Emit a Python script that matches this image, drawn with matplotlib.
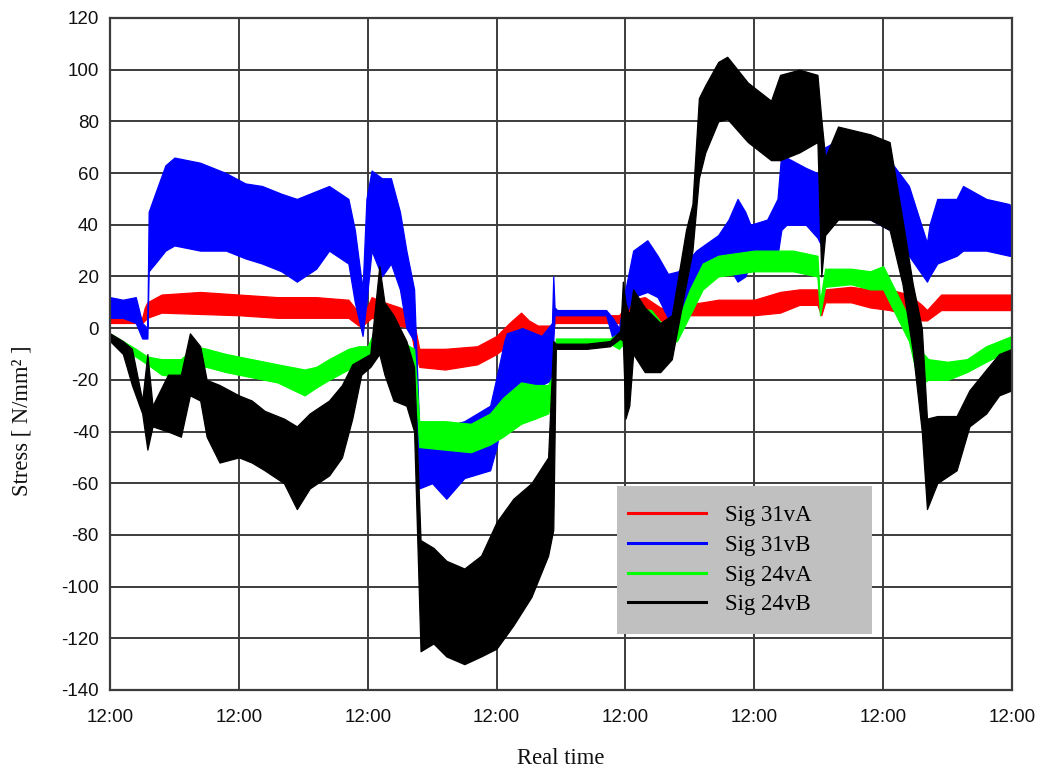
"""
Stress signals 31vA/31vB/24vA/24vB over one week of monitoring.
Each trace is very noisy, so it is drawn as a band between the lower and
upper envelope read off the recording at each sample time (days from 12:00).
"""
import matplotlib
matplotlib.use("Agg")
import matplotlib.pyplot as plt
from matplotlib.lines import Line2D
from matplotlib.patches import Rectangle

SERIF = ["Liberation Serif", "DejaVu Serif"]
SANS = ["Liberation Sans", "DejaVu Sans"]

DAY_TICKS = [0, 1, 2, 3, 4, 5, 6, 7]
DAY_LABELS = ["12:00"] * len(DAY_TICKS)
STRESS_TICKS = list(range(-140, 121, 20))

# --- Sig 31vA (red) -----------------------------------------------------------
RED_T = [0.0, 0.25, 0.27, 0.29, 0.40, 0.70, 1.00, 1.30, 1.60, 1.85, 1.93, 1.96,
         2.03, 2.13, 2.25, 2.33, 2.36, 2.40, 2.60, 2.85, 3.00, 3.10, 3.19, 3.25,
         3.32, 3.43, 3.45, 3.70, 3.95, 4.00, 4.05, 4.15, 4.27, 4.36, 4.45, 4.60,
         4.72, 5.00, 5.20, 5.35, 5.49, 5.52, 5.55, 5.75, 5.90, 6.05, 6.20, 6.30,
         6.34, 6.45, 6.70, 7.0]
RED_LO = [2, 2, 3, 4, 6, 5.5, 5, 4, 4, 4, 1, 1,
          4, 3, 1, 0, -8, -15, -16, -14, -10, -6, 1, -3,
          -6, -5, 2, 2, 2, -2, 5, 5, 3, 2, 5, 5,
          5, 5, 6, 9, 9, 5, 10, 10, 8, 7, 5, 3,
          3, 7, 7, 7]
RED_HI = [4, 4, 8, 10, 13, 14, 13, 12, 12, 11, 6, 4,
          12, 10, 8, 6, 2, -8, -8, -7, -3, 2, 6, 3,
          1, 1, 5, 5, 5, 8, 11, 12, 8, 7, 9, 10,
          11, 11, 14, 15, 15, 10, 15, 16, 15, 15, 13, 9,
          7, 13, 13, 13]

# --- Sig 31vB (blue) ----------------------------------------------------------
BLUE_T = [0.0, 0.10, 0.20, 0.25, 0.29, 0.30, 0.35, 0.43, 0.50, 0.70, 0.90, 1.05,
          1.18, 1.33, 1.45, 1.60, 1.70, 1.85, 1.90, 1.96, 1.99, 2.03, 2.11, 2.18,
          2.25, 2.30, 2.36, 2.40, 2.50, 2.61, 2.75, 2.95, 3.00, 3.06, 3.08, 3.20,
          3.35, 3.43, 3.44, 3.45, 3.47, 3.60, 3.85, 3.90, 3.95, 4.00, 4.06, 4.17,
          4.25, 4.33, 4.41, 4.55, 4.72, 4.80, 4.87, 4.93, 4.97, 5.10, 5.18, 5.21,
          5.25, 5.40, 5.49, 5.52, 5.55, 5.70, 5.90, 6.05, 6.20, 6.34, 6.36, 6.42,
          6.57, 6.62, 6.80, 6.98, 7.0]
BLUE_LO = [4, 4, 2, -4, -4, 22, 25, 30, 32, 30, 30, 27,
           25, 22, 18, 23, 30, 25, 10, -3, 10, 30, 20, 25,
           15, 0, -5, -62, -60, -66, -58, -55, -46, -30, -26, -24,
           -22, -20, -5, 5, 5, 5, 5, -4, -4, 5, 12, 14,
           12, 4, 4, 14, 22, 24, 18, 20, 25, 25, 28, 38,
           40, 40, 35, 32, 42, 44, 42, 38, 28, 18, 20, 25,
           28, 30, 30, 28, 28]
BLUE_HI = [12, 11, 12, 2, 0, 45, 52, 63, 66, 64, 60, 56,
           55, 52, 50, 53, 55, 50, 38, 15, 50, 61, 58, 58,
           45, 30, 15, -40, -38, -38, -36, -30, -19, -5, -2, 0,
           -3, 2, 20, 8, 7, 7, 7, 4, 0, 15, 30, 34,
           28, 21, 22, 30, 36, 42, 50, 45, 40, 42, 50, 68,
           66, 62, 60, 58, 70, 74, 72, 65, 55, 33, 40, 50,
           50, 55, 50, 48, 45]

# --- Sig 24vA (green) ---------------------------------------------------------
GREEN_T = [0.0, 0.10, 0.20, 0.29, 0.40, 0.55, 0.66, 0.75, 0.90, 1.10, 1.30, 1.51,
           1.60, 1.70, 1.85, 1.93, 2.00, 2.08, 2.11, 2.16, 2.25, 2.36, 2.40, 2.60,
           2.80, 2.95, 3.05, 3.19, 3.30, 3.40, 3.44, 3.46, 3.70, 3.88, 3.95, 4.00,
           4.06, 4.20, 4.31, 4.40, 4.50, 4.60, 4.72, 5.00, 5.30, 5.49, 5.51, 5.55,
           5.75, 5.90, 6.00, 6.10, 6.20, 6.28, 6.35, 6.50, 6.65, 6.80, 7.0]
GREEN_LO = [-5, -8, -11, -14, -18, -19, -15, -15, -17, -19, -21, -26,
            -23, -20, -16, -12, -12, -5, -5, -11, -11, -14, -46, -47,
            -48, -45, -42, -37, -35, -33, -26, -6, -6, -6, -8, -5,
            0, 1, -6, -5, 5, 15, 20, 22, 22, 20, 5, 16,
            17, 15, 15, 5, -5, -22, -20, -20, -17, -13, -8]
GREEN_HI = [-2, -5, -8, -11, -12, -12, -7, -8, -10, -12, -14, -16,
            -15, -12, -8, -7, -7, 2, 3, -6, -5, -8, -36, -36,
            -37, -33, -27, -21, -22, -22, -18, -4, -4, -4, -2, 2,
            8, 7, 0, 2, 15, 25, 28, 30, 30, 28, 10, 23,
            23, 22, 24, 14, 4, -8, -12, -13, -12, -7, -3]

# --- Sig 24vB (black) ---------------------------------------------------------
BLACK_T = [0.0, 0.10, 0.17, 0.25, 0.29, 0.33, 0.45, 0.55, 0.62, 0.70, 0.75, 0.85,
           1.00, 1.10, 1.20, 1.35, 1.45, 1.55, 1.70, 1.80, 1.88, 1.95, 2.02, 2.09,
           2.13, 2.20, 2.30, 2.36, 2.41, 2.51, 2.61, 2.75, 2.88, 3.00, 3.13, 3.27,
           3.40, 3.44, 3.46, 3.70, 3.88, 3.96, 3.98, 4.00, 4.03, 4.06, 4.15, 4.27,
           4.36, 4.39, 4.47, 4.52, 4.57, 4.62, 4.72, 4.79, 4.95, 5.13, 5.20, 5.35,
           5.49, 5.52, 5.55, 5.65, 5.90, 6.05, 6.15, 6.23, 6.30, 6.34, 6.42, 6.57,
           6.67, 6.80, 6.90, 7.0]
BLACK_LO = [-5, -10, -22, -33, -47, -38, -40, -42, -26, -28, -42, -52,
            -50, -52, -55, -60, -70, -62, -57, -50, -35, -18, -15, -10,
            -18, -28, -30, -40, -125, -122, -127, -130, -127, -124, -115, -104,
            -88, -78, -8, -8, -7, -4, -5, -35, -30, -10, -17, -17,
            -12, -4, 17, 30, 58, 68, 80, 81, 72, 65, 65, 68,
            72, 20, 36, 42, 42, 38, 17, -9, -40, -70, -60, -55,
            -38, -33, -26, -24]
BLACK_HI = [-2, -5, -8, -28, -10, -30, -18, -18, -2, -7, -20, -22,
            -26, -28, -32, -35, -38, -33, -28, -22, -14, -12, -10, 24,
            10, 5, -5, -15, -82, -85, -90, -93, -88, -75, -66, -60,
            -50, -5, -6, -6, -5, -1, 18, 10, 5, 15, 8, 2,
            5, 14, 38, 48, 89, 94, 103, 105, 95, 88, 98, 100,
            98, 81, 66, 78, 75, 72, 42, 17, 0, -35, -34, -34,
            -24, -16, -10, -8]

SERIES = [
    ("Sig 31vA", "#FF0000", RED_T, RED_LO, RED_HI),
    ("Sig 31vB", "#0000FF", BLUE_T, BLUE_LO, BLUE_HI),
    ("Sig 24vA", "#00FF00", GREEN_T, GREEN_LO, GREEN_HI),
    ("Sig 24vB", "#000000", BLACK_T, BLACK_LO, BLACK_HI),
]
GRID = "#3C3C3C"
INK = "#111111"


def main():
    plt.rcParams["axes.unicode_minus"] = False
    fig = plt.figure(figsize=(10.41, 7.69), dpi=100)
    ax = fig.add_axes([110 / 1041, 1 - 690 / 769, 902 / 1041, 672 / 769])

    handles = []
    for label, color, t, lo, hi in SERIES:
        ax.fill_between(t, lo, hi, color=color, lw=0.9, zorder=2)
        handles.append(Line2D([], [], color=color, lw=2.2, label=label))

    ax.set_xlim(0, 7)
    ax.set_ylim(-140, 120)
    ax.set_xticks(DAY_TICKS, DAY_LABELS)
    ax.set_yticks(STRESS_TICKS)
    ax.tick_params(length=0, labelsize=13.5, colors=INK)
    ax.tick_params(axis="x", pad=14)
    ax.tick_params(axis="y", pad=8)
    for lab in ax.get_xticklabels() + ax.get_yticklabels():
        lab.set_family(SANS)
    ax.grid(True, color=GRID, lw=1.4, zorder=1)
    ax.set_axisbelow(True)
    for sp in ax.spines.values():
        sp.set_color(GRID)
        sp.set_linewidth(1.6)

    fig.text(561 / 1041, 1 - 758 / 769, "Real time", ha="center", va="center",
             family=SERIF, fontsize=16.3, color=INK)
    fig.text(22 / 1041, 1 - 421 / 769, "Stress [ N/mm\u00b2 ]", ha="center",
             va="center", rotation=90, family=SERIF, fontsize=16.3, color=INK)

    # grey legend panel sits on top of the traces and grid
    ax.add_patch(Rectangle(((617 - 110) / 902, (690 - 634) / 672), 255 / 902,
                           148 / 672, transform=ax.transAxes,
                           facecolor="#C0C0C0", edgecolor="none", zorder=5))
    leg = ax.legend(handles=handles, loc="upper left", frameon=False,
                    bbox_to_anchor=((628 - 110) / 902, (690 - 505) / 672),
                    borderpad=0, borderaxespad=0, handlelength=3.4,
                    handletextpad=0.85, labelspacing=0.38,
                    prop={"family": SERIF, "size": 16.5})
    leg.set_zorder(6)

    fig.savefig("out.png", dpi=100)
    plt.close(fig)


if __name__ == "__main__":
    main()
